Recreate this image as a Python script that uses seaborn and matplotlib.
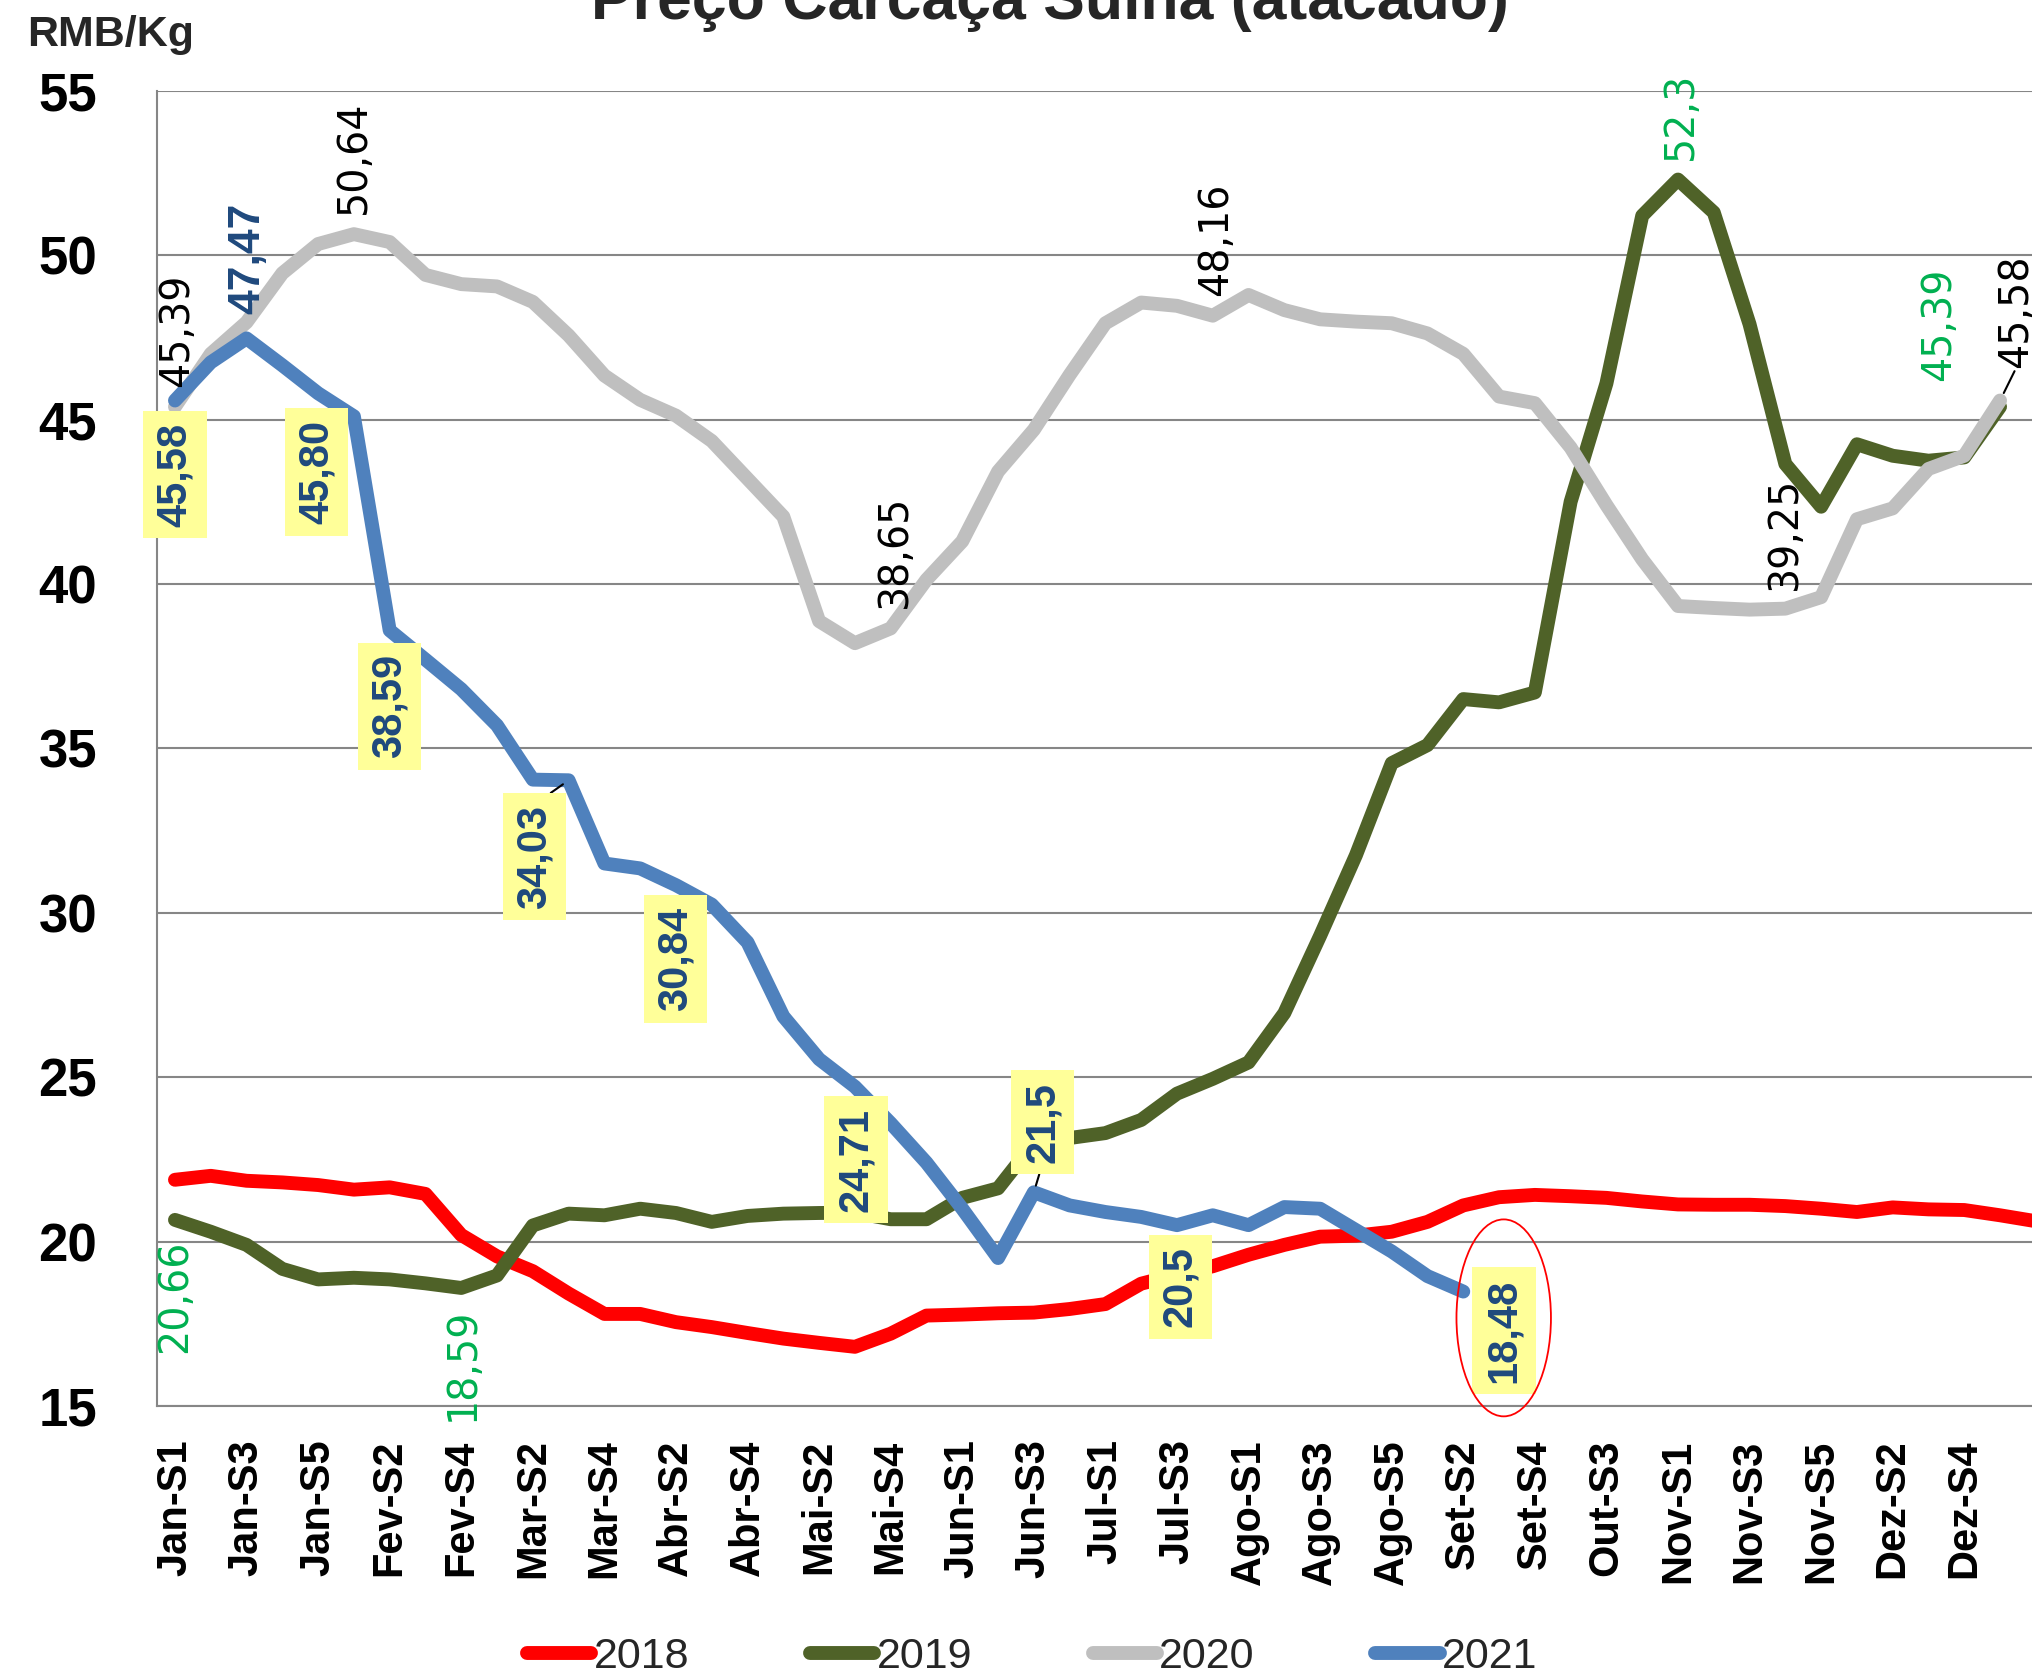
import numpy as np
import pandas as pd
import matplotlib
matplotlib.use("Agg")
import matplotlib.pyplot as plt
from matplotlib.lines import Line2D
from matplotlib.patches import Ellipse
import seaborn as sns

# ------------------------------------------------------------------
# Dados (RMB/Kg, semanas do ano)
# ------------------------------------------------------------------
meses = [("Jan", [1, 2, 3, 4, 5]), ("Fev", [1, 2, 3, 4]), ("Mar", [1, 2, 3, 4]),
         ("Abr", [1, 2, 3, 4]), ("Mai", [1, 2, 3, 4, 5]), ("Jun", [1, 2, 3, 4]),
         ("Jul", [1, 2, 3, 4]), ("Ago", [1, 2, 3, 4, 5]), ("Set", [1, 2, 3, 4]),
         ("Out", [2, 3, 4]), ("Nov", [1, 2, 3, 4, 5]), ("Dez", [1, 2, 3, 4, 5, 6])]
semanas = [f"{m}-S{s}" for m, ss in meses for s in ss]

preco_2018 = [21.88, 22.00, 21.85, 21.80, 21.72, 21.58, 21.65, 21.45, 20.20, 19.55,
              19.10, 18.42, 17.80, 17.80, 17.55, 17.40, 17.22, 17.05, 16.92, 16.80,
              17.20, 17.75, 17.78, 17.82, 17.84, 17.95, 18.10, 18.72, 19.00, 19.25,
              19.60, 19.90, 20.15, 20.18, 20.30, 20.60, 21.10, 21.35, 21.42, 21.38,
              21.33, 21.22, 21.13, 21.12, 21.12, 21.08, 21.00, 20.90, 21.04, 20.98,
              20.96, 20.80, 20.62]
preco_2019 = [20.66, 20.30, 19.90, 19.17, 18.85, 18.90, 18.85, 18.73, 18.59, 18.97,
              20.49, 20.85, 20.80, 21.00, 20.87, 20.60, 20.78, 20.85, 20.87, 20.88,
              20.68, 20.68, 21.33, 21.62, 23.00, 23.15, 23.30, 23.70, 24.50, 24.95,
              25.45, 26.95, 29.30, 31.75, 34.55, 35.10, 36.50, 36.40, 36.70, 42.50,
              46.10, 51.20, 52.30, 51.30, 47.90, 43.65, 42.35, 44.25, 43.90, 43.75,
              43.85, 45.39]
preco_2020 = [45.39, 47.00, 47.96, 49.45, 50.34, 50.64, 50.40, 49.40, 49.12, 49.05,
              48.58, 47.56, 46.34, 45.60, 45.12, 44.35, 43.20, 42.05, 38.87, 38.20,
              38.65, 40.13, 41.30, 43.42, 44.69, 46.36, 47.93, 48.56, 48.46, 48.16,
              48.79, 48.33, 48.05, 47.98, 47.93, 47.62, 47.00, 45.70, 45.50, 44.15,
              42.40, 40.75, 39.33, 39.27, 39.22, 39.25, 39.60, 41.97, 42.30, 43.50,
              43.90, 45.58]
preco_2021 = [45.58, 46.74, 47.47, 46.65, 45.80, 45.10, 38.59, 37.70, 36.80, 35.70,
              34.05, 34.03, 31.50, 31.35, 30.84, 30.25, 29.10, 26.85, 25.55, 24.71,
              23.60, 22.40, 21.00, 19.50, 21.50, 21.10, 20.90, 20.75, 20.50, 20.80,
              20.50, 21.05, 21.00, 20.35, 19.70, 18.95, 18.48]

anos = ["2018", "2019", "2020", "2021"]
series = [preco_2018, preco_2019, preco_2020, preco_2021]
cores = {"2018": "#FF0000", "2019": "#4F6228", "2020": "#BFBFBF", "2021": "#4F81BD"}

rows = [(i, v, ano) for ano, vals in zip(anos, series) for i, v in enumerate(vals)]
df = pd.DataFrame(rows, columns=["pos", "preco", "ano"])

# ------------------------------------------------------------------
# Figura
# ------------------------------------------------------------------
sns.set_theme(style="white")
plt.rcParams["font.family"] = ["Liberation Sans", "DejaVu Sans"]

fig = plt.figure(figsize=(20.32, 16.75), dpi=100)
ax = fig.add_axes([0.0773, 0.1606, 0.9334, 0.7852])

sns.lineplot(data=df, x="pos", y="preco", hue="ano", palette=cores,
             linewidth=10, sort=False, estimator=None, legend=False, ax=ax)
for ln in ax.get_lines():
    ln.set_solid_capstyle("round")
    ln.set_solid_joinstyle("round")

GRID = "#868686"
ax.set_xlim(-0.5, len(semanas) - 0.5)
ax.set_ylim(15, 55)
ax.set_yticks(range(15, 56, 5))
ax.set_xticks(range(0, 51, 2))
ax.set_xticklabels([semanas[i] for i in range(0, 51, 2)], rotation=90,
                   fontsize=30, fontweight="bold")
ax.set_xticks(np.arange(0.5, len(semanas) - 0.5, 1), minor=True)
ax.tick_params(axis="x", which="major", length=0, pad=24, colors="black")
ax.tick_params(axis="x", which="minor", length=13, width=1.5, color=GRID)
ax.tick_params(axis="y", length=12, width=1.5, color=GRID, pad=31,
               labelsize=38, labelcolor="black")
for t in ax.get_yticklabels():
    t.set_fontweight("bold")
ax.set_xlabel("")
ax.set_ylabel("")
ax.yaxis.grid(True, color=GRID, linewidth=1.5)
ax.xaxis.grid(False)
for s in ["top", "right"]:
    ax.spines[s].set_visible(False)
for s in ["left", "bottom"]:
    ax.spines[s].set_color(GRID)
    ax.spines[s].set_linewidth(1.5)

# ------------------------------------------------------------------
# Rótulos de dados
# ------------------------------------------------------------------
lbl = dict(rotation=90, ha="center", va="center", family="DejaVu Sans",
           fontsize=28.5, clip_on=False)
negrito = dict(rotation=90, ha="center", va="center", family="Liberation Sans",
               fontsize=30, fontweight="bold", color="#1F497D")
caixa = dict(boxstyle="square,pad=0.28", facecolor="#FFFF99", edgecolor="none")
VERDE = "#00B050"

# 2020 (preto)
for x, y, txt in [(0.07, 47.7, "45,39"), (5.0, 52.97, "50,64"), (20.12, 41.0, "38,65"),
                  (29.1, 50.47, "48,16"), (45.0, 41.55, "39,25")]:
    ax.text(x, y, txt, color="black", **lbl)
ax.annotate("45,58", xy=(51, 45.58), xytext=(51.45, 48.3), color="black",
            fontsize=28.5, rotation=90, ha="center", va="center",
            family="DejaVu Sans", annotation_clip=False,
            arrowprops=dict(arrowstyle="-", color="black", lw=1.5,
                            relpos=(0.5, 0), shrinkA=0, shrinkB=6))

# 2019 (verde)
for x, y, txt in [(0.0, 18.35, "20,66"), (8.05, 16.26, "18,59"),
                  (42.07, 54.25, "52,3"), (49.3, 47.9, "45,39")]:
    ax.text(x, y, txt, color=VERDE, **lbl)

# 2021 (azul, caixas amarelas)
ax.text(2.05, 49.9, "47,47", clip_on=False, **{**negrito, "fontsize": 32})
for x, y, txt in [(0.0, 43.33, "45,58"), (3.96, 43.41, "45,80"), (5.99, 36.28, "38,59"),
                  (13.99, 28.6, "30,84"), (19.03, 22.49, "24,71"),
                  (28.09, 18.63, "20,5"), (37.14, 17.29, "18,48")]:
    ax.text(x, y, txt, bbox=caixa, clip_on=False, **negrito)
for (px, py), (tx, ty), txt in [((11, 34.03), (10.04, 31.71), "34,03"),
                                ((24, 21.5), (24.25, 23.63), "21,5")]:
    ax.annotate(txt, xy=(px, py), xytext=(tx, ty), bbox=caixa,
                annotation_clip=False,
                arrowprops=dict(arrowstyle="-", color="black", lw=1.5,
                                relpos=(0.5, 1 if py > ty else 0),
                                shrinkA=0, shrinkB=5), **negrito)

# destaque no último valor
ax.add_patch(Ellipse((37.13, 17.68), width=2.64, height=5.99, fill=False,
                     edgecolor="red", lw=1.3, clip_on=False, zorder=5))

# ------------------------------------------------------------------
# Título, unidade e legenda
# ------------------------------------------------------------------
fig.text(0.5167, 0.9887, "Preço Carcaça Suína (atacado)", ha="center",
         va="baseline", fontsize=45, fontweight="bold")
fig.text(0.0133, 0.9725, "RMB/Kg", ha="left", va="baseline", fontsize=31,
         fontweight="bold")

handles = [Line2D([], [], color=cores[a], lw=10, solid_capstyle="round") for a in anos]
fig.legend(handles, anos, loc="center", bbox_to_anchor=(0.508, 0.0105), ncol=4,
           frameon=False, fontsize=31, handlelength=1.5, handletextpad=0.05,
           columnspacing=2.8, borderpad=0, borderaxespad=0)

fig.savefig("out.png", dpi=100)
